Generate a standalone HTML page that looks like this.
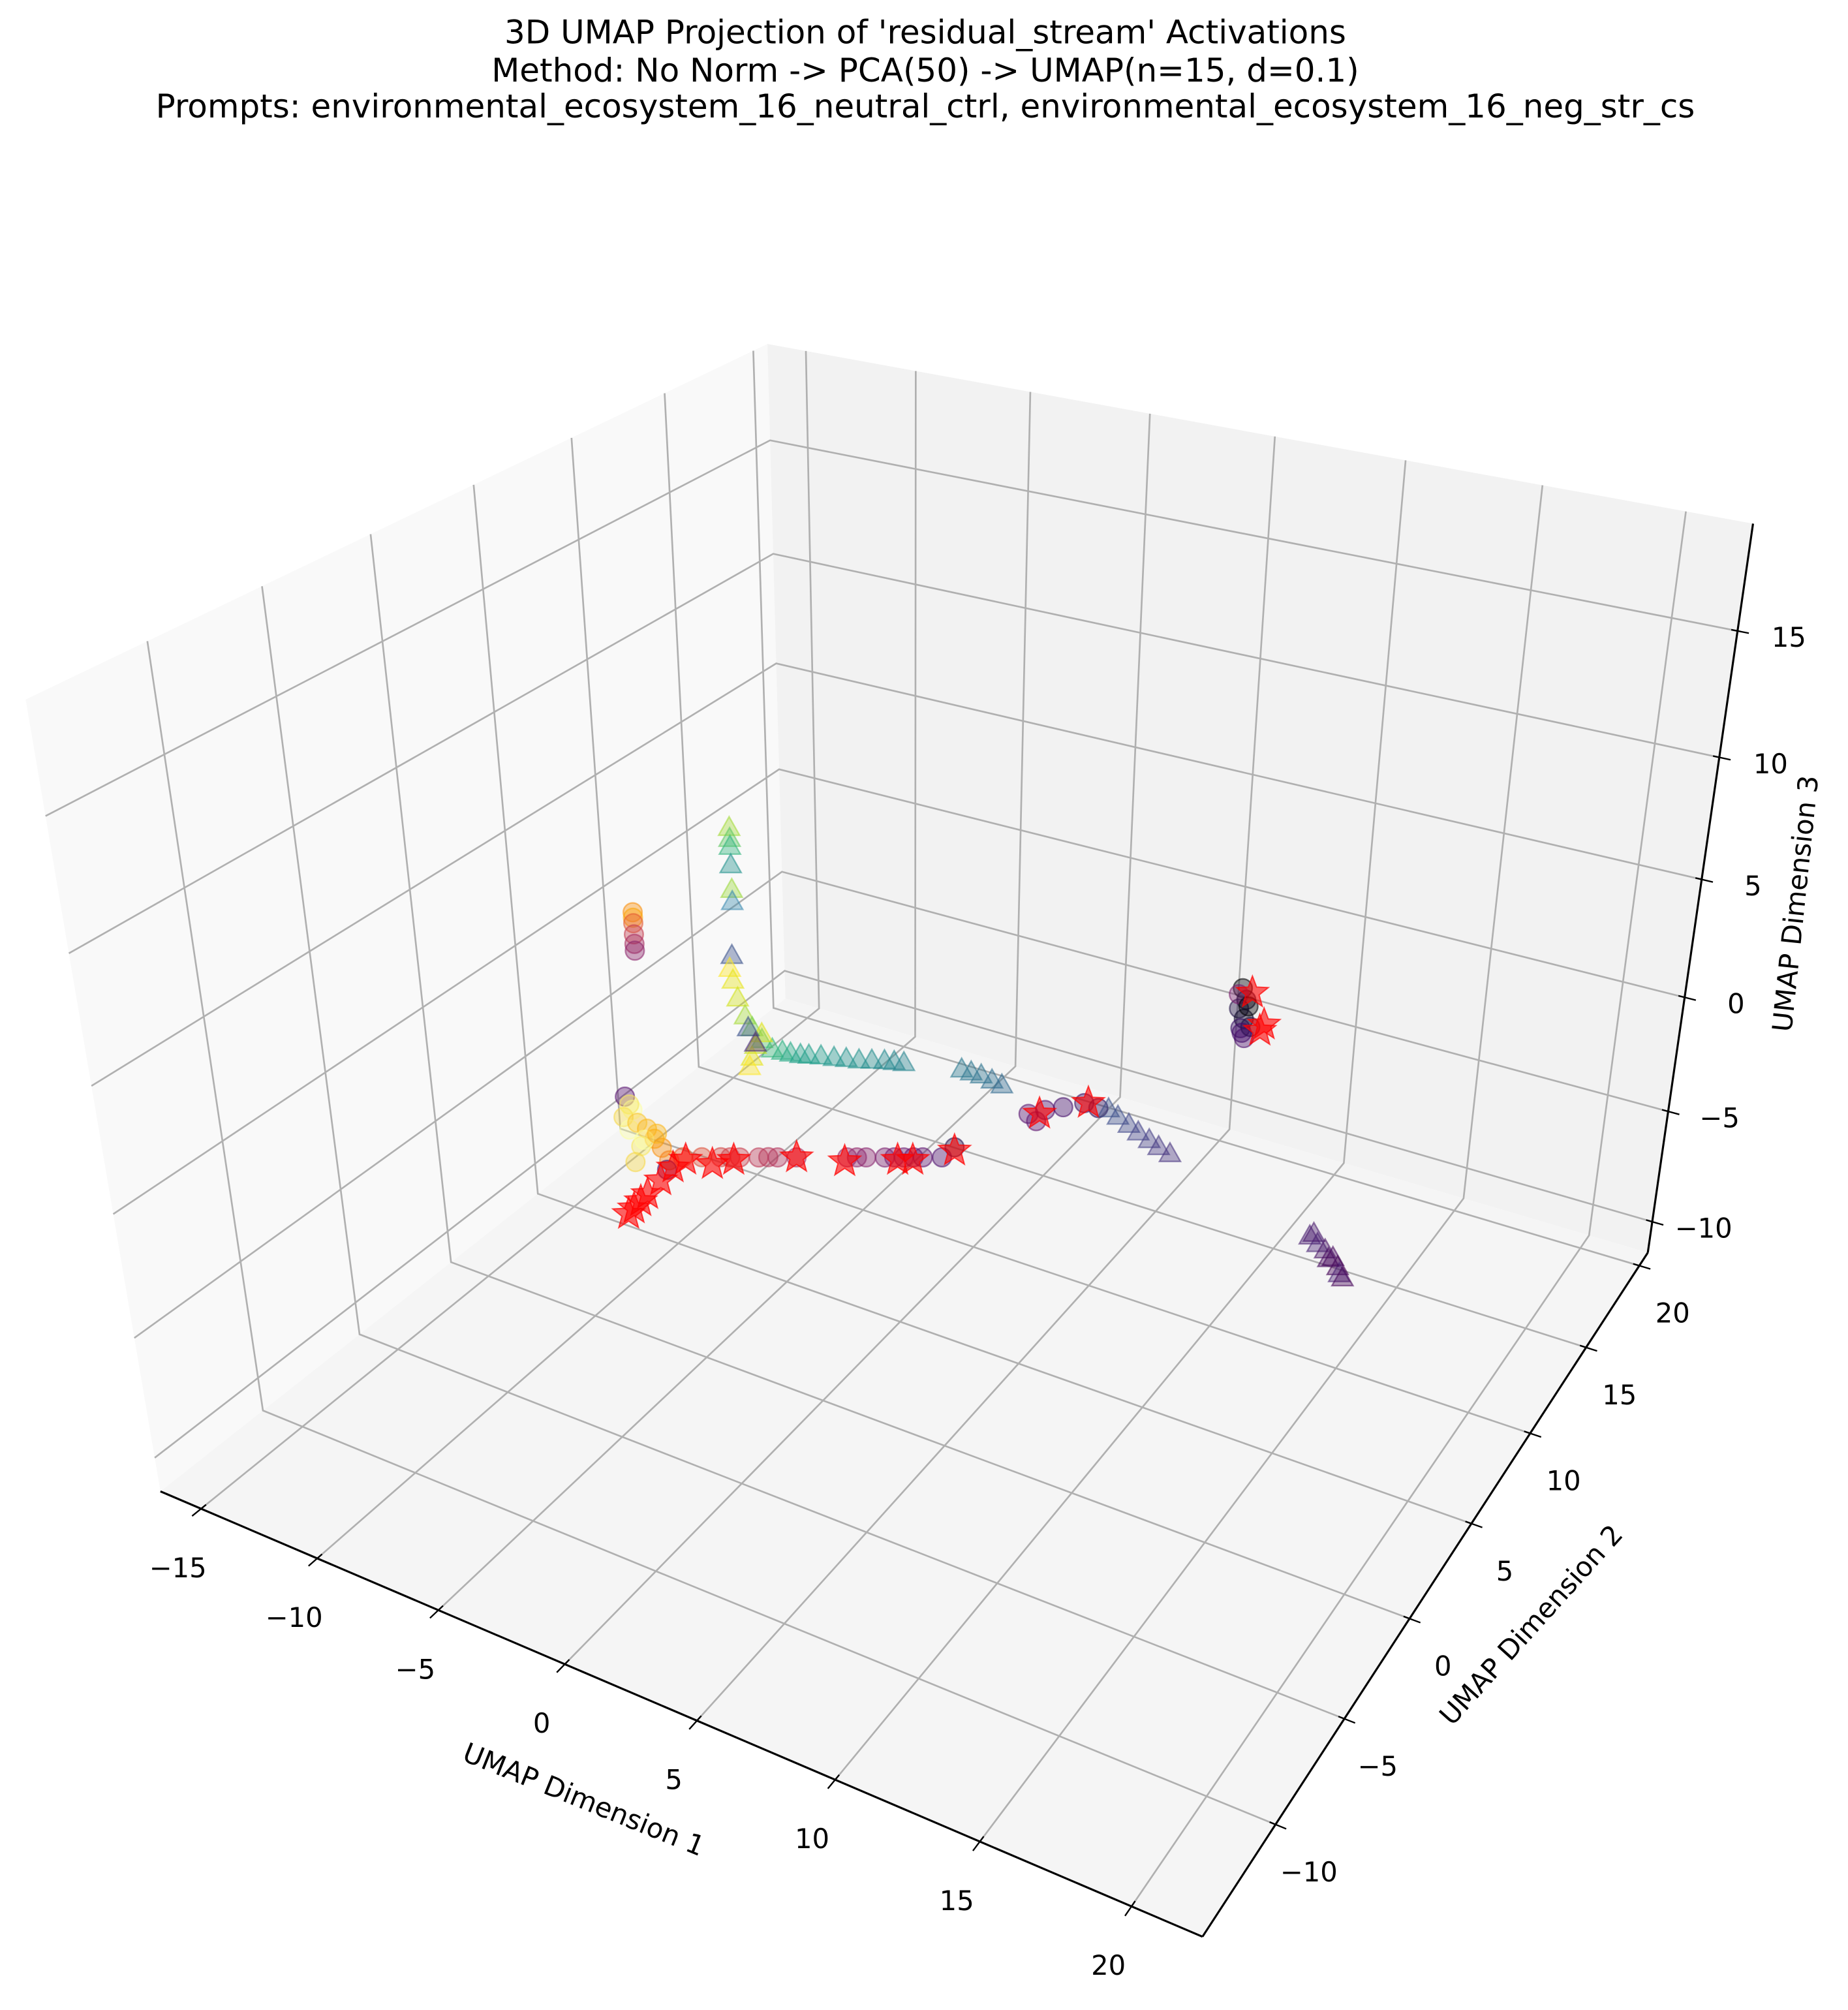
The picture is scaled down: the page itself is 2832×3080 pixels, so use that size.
<!DOCTYPE html>
<html>
<head>
<meta charset="utf-8">
<style>
  html,body{margin:0;padding:0;background:#fff;}
  svg{display:block;}
  text{font-family:"DejaVu Sans","Liberation Sans",sans-serif;fill:#000;}
</style>
</head>
<body>
<svg id="chart" xmlns="http://www.w3.org/2000/svg" width="2832" height="3080" viewBox="0 0 1440 1566.1">
  <rect x="0" y="0" width="1440" height="1566.1" fill="#ffffff"/>
  <g font-size="25.4" text-anchor="middle">
    <text x="721" y="33.9">3D UMAP Projection of 'residual_stream' Activations</text>
    <text x="721" y="63.6">Method: No Norm -&gt; PCA(50) -&gt; UMAP(n=15, d=0.1)</text>
    <text x="721" y="91.5">Prompts: environmental_ecosystem_16_neutral_ctrl, environmental_ecosystem_16_neg_str_cs</text>
  </g>
  <g id="panes"></g>
  <g id="grid"></g>
  <g id="axes"></g>
  <g id="marks"></g>
  <g font-size="21.2" text-anchor="middle">
    <text transform="translate(455,1402) rotate(22)" dominant-baseline="central">UMAP Dimension 1</text>
    <text transform="translate(1193,1266) rotate(-48)" dominant-baseline="central">UMAP Dimension 2</text>
    <text transform="translate(1399,704) rotate(-84)" dominant-baseline="central">UMAP Dimension 3</text>
  </g>
</svg>
<script>
// ---- data (UMAP coordinates) ----
const xTicks = [-15, -10, -5, 0, 5, 10, 15, 20];
const yTicks = [-10, -5, 0, 5, 10, 15, 20];
const zTicks = [-10, -5, 0, 5, 10, 15];
const xTickLabels = ["\u221215", "\u221210", "\u22125", "0", "5", "10", "15", "20"];
const yTickLabels = ["\u221210", "\u22125", "0", "5", "10", "15", "20"];
const zTickLabels = ["\u221210", "\u22125", "0", "5", "10", "15"];

// neutral_ctrl prompt tokens (circles)
const circX = [-1.55,-1.55,-1.55,-1.55,-1.55,-1.55,
  -2.25,-1.99,-2.35,-2.15,-1.83,-1.47,-1.2,-1.73,-0.94,-0.68,-1.99,-0.78,-2.1,-1.6,-1.1,
  -0.15,0.36,0.87,1.13,1.39,1.90,2.15,2.41,2.92,4.29,4.55,4.80,5.31,5.56,5.82,6.08,6.33,6.85,7.19,
  4.09,4.4,4.75,5.46,6.28,6.83,
  8.94,9.10,8.84,9.05,8.94,9.10,9.32,8.8,9.2,9.0];
const circY = [-7.21,-7.21,-7.21,-7.21,-7.21,-7.21,
  -7.21,-7.21,-7.21,-7.21,-7.21,-7.21,-7.21,-7.21,-7.21,-7.21,-7.21,-7.21,-7.21,-7.21,-7.21,
  -7.21,-6.92,-6.63,-6.49,-6.35,-6.06,-5.9,-5.77,-5.48,-4.71,-4.56,-4.42,-4.14,-3.99,-3.85,-3.7,-3.56,-3.27,-3.08,
  6.95,6.95,6.95,6.95,6.95,6.95,
  13.26,13.26,13.26,13.26,13.26,13.26,13.26,13.26,13.26,13.26];
const circZ = [12.08,11.88,11.68,11.27,10.92,10.67,
  4.95,4.53,4.13,3.71,4.08,3.97,3.67,3.21,3.41,3.01,2.5,2.61,4.7,3.5,3.9,
  3.31,3.31,3.31,3.31,3.31,3.31,3.31,3.31,3.31,3.31,3.31,3.31,3.31,3.31,3.31,3.31,3.31,3.31,3.7,
  -2.09,-2.3,-1.71,-1.36,-0.92,-0.95,
  1.0,0.55,0.1,-0.28,-0.72,-1.1,-0.55,0.7,0.3,-0.9];
const circColor = ["#f98e09","#fca50a","#e35933","#c43c4e","#a52c60","#8a226a",
  "#56106e","#fcffa4","#f6d746","#fcffa4","#fac62d","#fbb61a","#fca50a","#f7e85a","#f98e09","#f57d15","#f6d746","#420a68","#f7e85a","#fcffa4","#fbb61a",
  "#e65d2f","#dd513a","#d24644","#cc4248","#c73e4c","#bc3754","#b73557","#b1325a","#a52c60","#932667","#8f2469","#87216b","#7a1d6d","#72196e","#6a176e","#63146e","#5c126e","#4a0c6b","#1f0c48",
  "#56106e","#5c126e","#4a0c6b","#420a68","#320a5e","#2d0b59",
  "#000004","#0d0829","#1b0c41","#0d0829","#320a5e","#4a0c6b","#1b0c41","#7a1d6d","#000004","#420a68"];

// neg_str_cs prompt tokens (triangles)
const triX = [-8.28,-8.28,-8.28,-8.28,-8.28,-8.28,
  -8.4,-8.52,-8.40,-8.22,-7.92,-7.62,-7.2,-6.75,-6.3,-5.94,-5.5,-5.13,-4.6,-4.03,-3.5,-2.95,-2.4,-1.86,-1.45,-1.04,
  1.36,1.75,2.16,2.6,3.0,7.23,7.6,8.03,8.4,8.83,9.2,9.64,
  -7.2,-7.5,-7.68,-7.8,-7.8,-7.5,
  17.02,17.3,17.57,17.85,18.03,18.1,18.22,17.15,17.7];
const triY = [6.95,6.95,6.95,6.95,6.95,6.95,
  6.95,6.95,6.95,6.95,6.95,6.95,6.95,6.95,6.95,6.95,6.95,6.95,6.95,6.95,6.95,6.95,6.95,6.95,6.95,6.95,
  6.95,6.95,6.95,6.95,6.95,6.95,6.95,6.95,6.95,6.95,6.95,6.95,
  6.95,6.95,6.95,6.95,6.95,6.95,
  2.16,2.16,2.16,2.16,2.16,2.16,2.16,2.16,2.16];
const triZ = [6.36,5.9,5.57,4.79,3.74,3.22,
  0.86,0.26,-0.22,-0.95,-1.65,-2.08,-2.48,-2.76,-2.72,-2.69,-2.62,-2.53,-2.4,-2.29,-2.17,-2.06,-1.9,-1.75,-1.66,-1.58,
  -1.1,-1.1,-1.1,-1.18,-1.26,-0.91,-1.1,-1.3,-1.5,-1.68,-1.85,-2.0,
  -2.22,-2.83,-3.41,-3.87,-2.14,-2.73,
  0.3,0.1,-0.05,-0.25,-0.55,-0.8,-0.92,0.45,-0.35];
const triColor = ["#a2da37","#5ec962","#2fb47c","#21918c","#9bd93c","#3b8bb0",
  "#3b528b","#fde725","#e5e419","#d0e11c","#a5db36","#7ad151","#52c569","#35b779","#2ab07f","#22a884","#1fa188","#1f9e89","#1e9b8a","#1f968b","#20928c","#21918c","#228c8d","#23898e","#24868e","#25838e",
  "#2a788e","#2b758e","#2c728e","#2e6e8e","#306a8e","#3b528b","#3d4d8a","#3f4788","#414287","#433e85","#453882","#46327e",
  "#dde318","#c2df23","#e5e419","#fde725","#3b528b","#482878",
  "#481f70","#482475","#471365","#46085c","#440154","#482173","#450559","#481a6c","#46085c"];

// highlighted tokens (red stars)
const starX = [-1.7,-1.55,-1.35,-1.16,-0.78,-0.43,-0.08,0.64,1.22,2.92,4.22,5.65,6.06,7.19,4.53,6.44,9.32,9.85,9.7];
const starY = [-8.1,-8,-7.9,-7.78,-7.57,-7.37,-7.17,-6.77,-6.44,-5.48,-4.75,-3.94,-3.71,-3.08,6.95,6.95,13.26,13.26,13.26];
const starZ = [1.1,1.31,1.6,1.87,2.41,2.91,3.21,3.05,3.21,3.31,3.16,3.21,3.21,3.57,-1.94,-0.86,0.92,-0.29,-0.6];

// ---- projection (axis box) ----
const XMIN = -16.8, XMAX = 22.26, YMIN = -15.02, YMAX = 20.82, ZMIN = -11.43, ZMAX = 19.11;
const QX = 1.19, QY = 0.83, QZ = 1.11;
const K = {
  c000:[125,1162], c100:[937,1509], c110:[1284,976], c010:[612,778],
  c001:[20,545],  c101:[980,810],  c111:[1366,408], c011:[598,268]
};
function frac(val, mn, mx, q){ const t=(val-mn)/(mx-mn); return t/(t+q*(1-t)); }
function bil(a,b,c,d,u,v){
  return [ (1-u)*(1-v)*a[0]+u*(1-v)*b[0]+u*v*c[0]+(1-u)*v*d[0],
           (1-u)*(1-v)*a[1]+u*(1-v)*b[1]+u*v*c[1]+(1-u)*v*d[1] ];
}
function projUVW(u,v,w){
  const f=bil(K.c000,K.c100,K.c110,K.c010,u,v);
  const t=bil(K.c001,K.c101,K.c111,K.c011,u,v);
  return [f[0]+(t[0]-f[0])*w, f[1]+(t[1]-f[1])*w];
}
function proj(x,y,z){ return projUVW(frac(x,XMIN,XMAX,QX), frac(y,YMIN,YMAX,QY), frac(z,ZMIN,ZMAX,QZ)); }

const NS="http://www.w3.org/2000/svg";
function mk(tag, parent){ const e=document.createElementNS(NS,tag); parent.appendChild(e); return e; }
function pts(a){ return a.map(p=>p[0].toFixed(2)+","+p[1].toFixed(2)).join(" "); }

// panes
const panes=document.getElementById("panes");
const paneLeft=mk("polygon",panes);


paneLeft.setAttribute("points",pts([K.c000,K.c010,K.c011,K.c001]));
paneLeft.setAttribute("fill","#f9f9f9");
const paneBack=mk("polygon",panes);


paneBack.setAttribute("points",pts([K.c010,K.c110,K.c111,K.c011]));
paneBack.setAttribute("fill","#f2f2f2");
const paneFloor=mk("polygon",panes);


paneFloor.setAttribute("points",pts([K.c000,K.c100,K.c110,K.c010]));
paneFloor.setAttribute("fill","#f5f5f5");

// gridlines
const grid=document.getElementById("grid");
function gline(pArr,name){
  const e=mk("polyline",grid);
  
  
  e.setAttribute("points",pts(pArr));
  e.setAttribute("fill","none");
  e.setAttribute("stroke","#b0b0b0");
  e.setAttribute("stroke-width","1.35");
}
xTicks.forEach(xv=>{ gline([proj(xv,YMIN,ZMIN),proj(xv,YMAX,ZMIN),proj(xv,YMAX,ZMAX)],"x-gridline"); });
yTicks.forEach(yv=>{ gline([proj(XMAX,yv,ZMIN),proj(XMIN,yv,ZMIN),proj(XMIN,yv,ZMAX)],"y-gridline"); });
zTicks.forEach(zv=>{ gline([proj(XMIN,YMIN,zv),proj(XMIN,YMAX,zv),proj(XMAX,YMAX,zv)],"z-gridline"); });

// axes, ticks, labels
const axes=document.getElementById("axes");
function aline(p1,p2,name,w){
  const e=mk("line",axes);
  
  
  e.setAttribute("x1",p1[0]); e.setAttribute("y1",p1[1]);
  e.setAttribute("x2",p2[0]); e.setAttribute("y2",p2[1]);
  e.setAttribute("stroke","#000"); e.setAttribute("stroke-width",w);
}
aline(proj(XMIN,YMIN,ZMIN),proj(XMAX,YMIN,ZMIN),"x-axis-line",1.6);
aline(proj(XMAX,YMIN,ZMIN),proj(XMAX,YMAX,ZMIN),"y-axis-line",1.6);
aline(proj(XMAX,YMAX,ZMIN),proj(XMAX,YMAX,ZMAX),"z-axis-line",1.6);
function tick(p, inner, lbl, off, name){
  let dx=p[0]-inner[0], dy=p[1]-inner[1]; const L=Math.hypot(dx,dy); dx/=L; dy/=L;
  aline([p[0]-dx*5,p[1]-dy*5],[p[0]+dx*9,p[1]+dy*9],name+"-tick",1.2);
  const t=mk("text",axes);
  
  
  t.setAttribute("x",(p[0]+off[0]).toFixed(2));
  t.setAttribute("y",(p[1]+off[1]).toFixed(2));
  t.setAttribute("font-size","21.2");
  t.setAttribute("text-anchor","middle");
  t.setAttribute("dominant-baseline","central");
  t.textContent=lbl;
}
xTicks.forEach((xv,i)=>tick(proj(xv,YMIN,ZMIN),proj(xv,YMAX,ZMIN),xTickLabels[i],[-18,46],"x-tick"));
yTicks.forEach((yv,i)=>tick(proj(XMAX,yv,ZMIN),proj(XMIN,yv,ZMIN),yTickLabels[i],[26,37],"y-tick"));
zTicks.forEach((zv,i)=>tick(proj(XMAX,YMAX,zv),proj(XMIN,YMAX,zv),zTickLabels[i],[40,5],"z-tick"));

// marks
const marks=document.getElementById("marks");
const gC=mk("g",marks);


circX.forEach((xv,i)=>{
  const p=proj(xv,circY[i],circZ[i]);
  const c=mk("circle",gC);
  
  
  c.setAttribute("cx",p[0].toFixed(2)); c.setAttribute("cy",p[1].toFixed(2)); c.setAttribute("r","7.3");
  c.setAttribute("fill",circColor[i]); c.setAttribute("fill-opacity","0.4");
  c.setAttribute("stroke",circColor[i]); c.setAttribute("stroke-opacity","0.55"); c.setAttribute("stroke-width","1.2");
});
const gT=mk("g",marks);


triX.forEach((xv,i)=>{
  const p=proj(xv,triY[i],triZ[i]);
  const t=mk("polygon",gT);
  
  
  t.setAttribute("points",pts([[p[0],p[1]-9.5],[p[0]+8.2,p[1]+5],[p[0]-8.2,p[1]+5]]));
  t.setAttribute("fill",triColor[i]); t.setAttribute("fill-opacity","0.4");
  t.setAttribute("stroke",triColor[i]); t.setAttribute("stroke-opacity","0.55"); t.setAttribute("stroke-width","1.2");
});
const gS=mk("g",marks);


starX.forEach((xv,i)=>{
  const p=proj(xv,starY[i],starZ[i]);
  const a=[];
  for(let k=0;k<10;k++){ const r=(k%2===0)?13:5.5; const ang=-Math.PI/2+k*Math.PI/5; a.push([p[0]+r*Math.cos(ang),p[1]+r*Math.sin(ang)]); }
  const s=mk("polygon",gS);
  
  
  s.setAttribute("points",pts(a));
  s.setAttribute("fill","#ff0000"); s.setAttribute("fill-opacity","0.6");
  s.setAttribute("stroke","#ff0000"); s.setAttribute("stroke-opacity","0.7"); s.setAttribute("stroke-width","1");
});
</script>
</body>
</html>
